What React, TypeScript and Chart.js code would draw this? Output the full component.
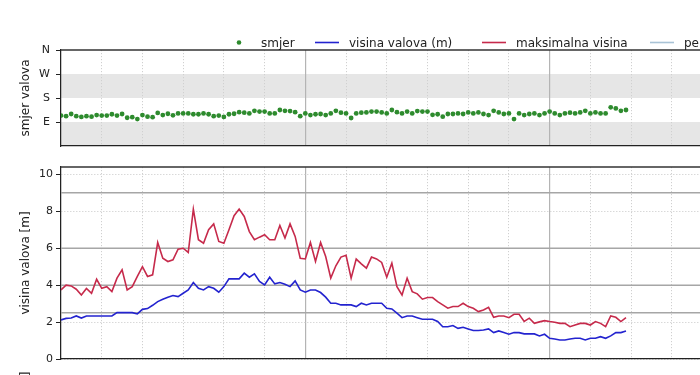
import { useEffect, useRef } from 'react';
import { Chart, registerables } from 'chart.js';

Chart.register(...registerables);

// ---- data (index = half-hour step) ----
const DIR_DEG = [
  114, 112, 120, 112, 109, 112, 110, 116, 114, 114,
  119, 114, 120, 106, 108, 101, 116, 110, 108, 124,
  116, 121, 115, 122, 122, 122, 119, 119, 122, 119,
  112, 114, 109, 119, 121, 127, 125, 122, 132, 129,
  129, 122, 122, 135, 132, 131, 127, 112, 122, 116,
  119, 120, 116, 122, 132, 125, 122, 105, 122, 125,
  126, 129, 129, 126, 122, 135, 127, 122, 129, 122,
  131, 129, 129, 117, 119, 110, 120, 120, 122, 120,
  126, 122, 126, 120, 116, 132, 126, 120, 122, 101,
  122, 116, 120, 122, 116, 122, 129, 122, 116, 122,
  125, 122, 126, 132, 122, 126, 122, 122, 145, 141,
  132, 135,
];

const WAVE_HEIGHT = [
  2.12, 2.2, 2.22, 2.33, 2.22, 2.33, 2.33, 2.33, 2.33, 2.33,
  2.33, 2.51, 2.51, 2.51, 2.51, 2.44, 2.69, 2.73, 2.91, 3.11,
  3.24, 3.35, 3.44, 3.38, 3.56, 3.74, 4.14, 3.83, 3.74, 3.92,
  3.83, 3.62, 3.92, 4.34, 4.34, 4.34, 4.65, 4.43, 4.61, 4.2,
  4.01, 4.43, 4.07, 4.14, 4.05, 3.92, 4.23, 3.74, 3.62, 3.74,
  3.74, 3.6, 3.35, 3.02, 3.02, 2.93, 2.93, 2.93, 2.84, 3.02,
  2.93, 3.02, 3.02, 3.02, 2.75, 2.71, 2.48, 2.24, 2.33, 2.33,
  2.24, 2.15, 2.15, 2.15, 2.03, 1.75, 1.75, 1.81, 1.66, 1.72,
  1.63, 1.54, 1.54, 1.57, 1.63, 1.43, 1.52, 1.43, 1.34, 1.43,
  1.43, 1.36, 1.36, 1.36, 1.25, 1.34, 1.12, 1.08, 1.03, 1.03,
  1.08, 1.12, 1.12, 1.03, 1.12, 1.12, 1.21, 1.12, 1.25, 1.43,
  1.43, 1.52,
];

const MAX_HEIGHT = [
  3.74, 4.0, 3.96, 3.78, 3.47, 3.82, 3.56, 4.32, 3.83, 3.92,
  3.65, 4.38, 4.83, 3.74, 3.92, 4.47, 5.0, 4.47, 4.56, 6.31,
  5.46, 5.28, 5.37, 5.95, 6.0, 5.77, 8.12, 6.46, 6.27, 7.0,
  7.32, 6.37, 6.27, 7.0, 7.76, 8.12, 7.72, 6.9, 6.46, 6.6,
  6.73, 6.46, 6.46, 7.23, 6.55, 7.32, 6.64, 5.46, 5.42, 6.31,
  5.28, 6.31, 5.55, 4.38, 5.05, 5.52, 5.62, 4.38, 5.41, 5.15,
  4.92, 5.52, 5.42, 5.23, 4.43, 5.19, 3.92, 3.47, 4.38, 3.65,
  3.53, 3.24, 3.33, 3.33, 3.11, 2.93, 2.75, 2.84, 2.84, 3.02,
  2.84, 2.75, 2.57, 2.66, 2.8, 2.26, 2.33, 2.33, 2.24, 2.42,
  2.42, 2.03, 2.21, 1.93, 2.01, 2.08, 2.03, 1.99, 1.93, 1.93,
  1.75, 1.84, 1.93, 1.93, 1.84, 2.03, 1.93, 1.75, 2.33, 2.26,
  2.03, 2.24,
];

const THRESHOLDS = [2.5, 4, 6, 9];
const DIR_TICKS = [90, 180, 270, 360];
const DIR_LABELS = ['E', 'S', 'W', 'N'];
const DIR_BANDS = [[0, 90], [180, 270]];
const HEIGHT_TICKS = [0, 2, 4, 6, 8, 10];
const X_MINOR_STEP = 8;
const X_MAJOR_STEP = 48;
const X_MAX = 140;

const LEGEND_LABELS = ['smjer', 'visina valova (m)', 'maksimalna visina', 'period valova (s)'];
const LEGEND_KINDS = ['dot', 'line', 'line', 'line'];

// ---- styles / layout ----
const FONT = '"DejaVu Sans", sans-serif';
const GREEN = '#2e8b2e';
const BLUE = '#2323cf';
const RED = '#c62a4b';
const PERIOD_COLOR = '#a9c3d6';
const LEGEND_COLORS = [GREEN, BLUE, RED, PERIOD_COLOR];
const LEGEND_X = [227, 315, 482, 650];
const CANVAS_W = 800;
const AXIS_W = 61;
const PX_PER_STEP = 5.09;
const RIGHT_PAD = CANVAS_W - AXIS_W - PX_PER_STEP * X_MAX;
const MINOR_GRID = '#d0d0d0';
const MINOR_DASH = [1.2, 1.8];

Chart.defaults.font.family = FONT;
Chart.defaults.color = '#222';

const isMajor = (c: any) => c.tick && Math.round(c.tick.value) % X_MAJOR_STEP === 0;

const xScale = () => ({
  type: 'linear' as const,
  min: 0,
  max: X_MAX,
  afterBuildTicks: (s: any) => {
    const t = [];
    for (let v = 0; v <= X_MAX; v += X_MINOR_STEP) t.push({ value: v });
    s.ticks = t;
  },
  afterFit: (s: any) => { s.height = 0; },
  ticks: { display: false },
  grid: {
    drawTicks: false,
    color: (c: any) => (isMajor(c) ? '#b4b4b4' : MINOR_GRID),
    lineWidth: (c: any) => (isMajor(c) ? 1.2 : 1),
  },
  border: {
    color: '#222',
    width: 1.2,
    dash: (c: any) => (isMajor(c) ? [] : MINOR_DASH),
  },
});

const bandsPlugin = {
  id: 'dirBands',
  beforeDraw(chart: any) {
    const { ctx, chartArea } = chart;
    const y = chart.scales.y;
    ctx.save();
    ctx.fillStyle = '#e6e6e6';
    DIR_BANDS.forEach(([a, b]) => {
      const y1 = y.getPixelForValue(b);
      const y2 = y.getPixelForValue(a);
      ctx.fillRect(chartArea.left, y1, chartArea.right - chartArea.left, y2 - y1);
    });
    ctx.restore();
  },
};

const topSpinePlugin = {
  id: 'topSpine',
  afterDraw(chart: any) {
    const { ctx, chartArea } = chart;
    ctx.save();
    ctx.strokeStyle = '#333';
    ctx.lineWidth = 1.3;
    ctx.beginPath();
    ctx.moveTo(chartArea.left, chartArea.top);
    ctx.lineTo(chartArea.right, chartArea.top);
    ctx.stroke();
    ctx.restore();
  },
};

const legendPlugin = {
  id: 'figLegend',
  afterDraw(chart: any) {
    const ctx = chart.ctx;
    const cy = 42.5;
    ctx.save();
    ctx.font = `12px ${FONT}`;
    ctx.textBaseline = 'alphabetic';
    ctx.textAlign = 'left';
    LEGEND_LABELS.forEach((label, i) => {
      const x = LEGEND_X[i];
      const color = LEGEND_COLORS[i];
      if (LEGEND_KINDS[i] === 'dot') {
        ctx.fillStyle = color;
        ctx.beginPath();
        ctx.arc(x + 12, cy, 2.3, 0, Math.PI * 2);
        ctx.fill();
      } else {
        ctx.strokeStyle = color;
        ctx.lineWidth = 1.6;
        ctx.beginPath();
        ctx.moveTo(x, cy);
        ctx.lineTo(x + 24, cy);
        ctx.stroke();
      }
      ctx.fillStyle = '#222';
      ctx.fillText(label, x + 34, 46.5);
    });
    ctx.restore();
  },
};

const yTitle = (text: string) => ({
  display: true,
  text,
  font: { size: 12 },
  color: '#222',
  padding: { top: 19, bottom: 0 },
});

export default function App() {
  const r1 = useRef<HTMLCanvasElement>(null);
  const r2 = useRef<HTMLCanvasElement>(null);
  const r3 = useRef<HTMLCanvasElement>(null);

  useEffect(() => {
    const common = {
      responsive: false,
      animation: false as const,
      devicePixelRatio: 1,
      events: [] as any[],
      plugins: { legend: { display: false }, tooltip: { enabled: false } },
    };

    const c1 = new Chart(r1.current!, {
      type: 'scatter',
      data: {
        datasets: [
          {
            label: LEGEND_LABELS[0],
            data: DIR_DEG.map((v, i) => ({ x: i, y: v })),
            pointRadius: 2.4,
            pointBackgroundColor: GREEN,
            pointBorderWidth: 0,
            showLine: false,
          },
        ],
      },
      options: {
        ...common,
        layout: { autoPadding: false, padding: { top: 50, bottom: 14, left: 0, right: RIGHT_PAD } },
        scales: {
          x: xScale() as any,
          y: {
            min: 0,
            max: 360,
            afterBuildTicks: (s: any) => { s.ticks = DIR_TICKS.map((v) => ({ value: v })); },
            afterFit: (s: any) => { s.width = AXIS_W; },
            ticks: {
              padding: 6,
              font: { size: 11 },
              color: '#222',
              callback: (_v: any, i: number) => DIR_LABELS[i],
            },
            grid: { drawOnChartArea: false, tickLength: 5, tickColor: '#222', tickWidth: 1 },
            border: { color: '#222', width: 1.2 },
            title: yTitle('smjer valova'),
          },
        },
      },
      plugins: [bandsPlugin, topSpinePlugin, legendPlugin],
    } as any);

    const c2 = new Chart(r2.current!, {
      type: 'scatter',
      data: {
        datasets: [
          ...THRESHOLDS.map((t) => ({
            label: `prag ${t}`,
            data: [{ x: 0, y: t }, { x: X_MAX, y: t }],
            showLine: true,
            pointRadius: 0,
            borderColor: '#a6a6a6',
            borderWidth: 1.5,
            order: 5,
          })),
          {
            label: LEGEND_LABELS[2],
            data: MAX_HEIGHT.map((v, i) => ({ x: i, y: v })),
            showLine: true,
            pointRadius: 0,
            borderColor: RED,
            borderWidth: 1.6,
            tension: 0,
            order: 1,
          },
          {
            label: LEGEND_LABELS[1],
            data: WAVE_HEIGHT.map((v, i) => ({ x: i, y: v })),
            showLine: true,
            pointRadius: 0,
            borderColor: BLUE,
            borderWidth: 1.6,
            tension: 0,
            order: 0,
          },
        ],
      },
      options: {
        ...common,
        layout: { autoPadding: false, padding: { top: 12, bottom: 16, left: 0, right: RIGHT_PAD } },
        scales: {
          x: xScale() as any,
          y: {
            min: 0,
            max: 10.4,
            afterBuildTicks: (s: any) => { s.ticks = HEIGHT_TICKS.map((v) => ({ value: v })); },
            afterFit: (s: any) => { s.width = AXIS_W; },
            ticks: { padding: 3, font: { size: 11 }, color: '#222' },
            grid: { color: MINOR_GRID, lineWidth: 1, tickLength: 5, tickColor: '#222', tickWidth: 1 },
            border: { color: '#222', width: 1.2, dash: MINOR_DASH },
            title: yTitle('visina valova [m]'),
          },
        },
      },
      plugins: [topSpinePlugin],
    } as any);

    const c3 = new Chart(r3.current!, {
      type: 'scatter',
      data: { datasets: [{ label: LEGEND_LABELS[3], data: [], showLine: true, borderColor: PERIOD_COLOR }] },
      options: {
        ...common,
        layout: { autoPadding: false, padding: { top: 14, bottom: 90, left: 0, right: RIGHT_PAD } },
        scales: {
          x: { ...(xScale() as any), grid: { display: false }, border: { display: false } },
          y: {
            min: 0,
            max: 1,
            afterFit: (s: any) => { s.width = AXIS_W; },
            ticks: { display: false },
            grid: { display: false },
            border: { display: false },
            title: yTitle('period valova [s]'),
          },
        },
      },
    } as any);

    return () => {
      c1.destroy();
      c2.destroy();
      c3.destroy();
    };
  }, []);

  return (
    <div
      style={{
        position: 'fixed',
        left: 0,
        top: 0,
        width: 700,
        height: 375,
        overflow: 'hidden',
        background: '#fff',
      }}
    >
      <canvas ref={r1} width={CANVAS_W} height={160} style={{ position: 'absolute', left: 0, top: 0 }} />
      <canvas ref={r2} width={CANVAS_W} height={220} style={{ position: 'absolute', left: 0, top: 155 }} />
      <canvas ref={r3} width={CANVAS_W} height={200} style={{ position: 'absolute', left: 0, top: 360 }} />
    </div>
  );
}
